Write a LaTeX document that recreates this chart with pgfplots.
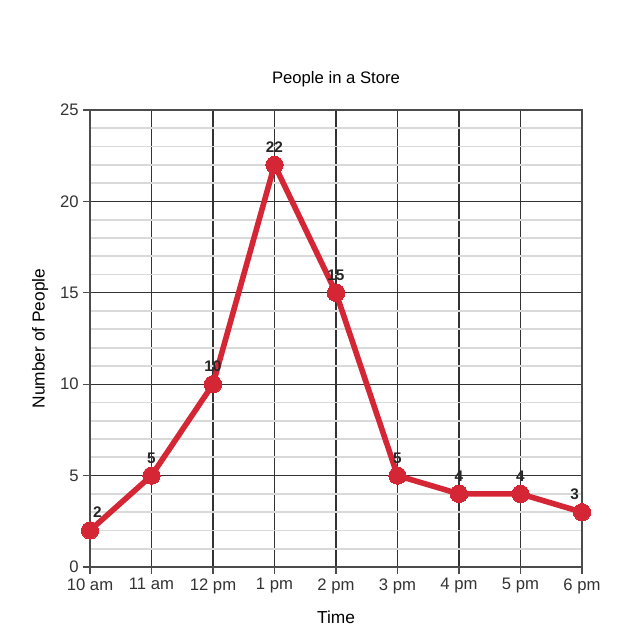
\documentclass[border=0pt]{standalone}
\usepackage{fontspec}
\setmainfont{Liberation Sans}
\usepackage{pgfplots}
\pgfplotsset{compat=1.18}
\definecolor{linered}{RGB}{212,38,52}
\begin{document}
\begin{tikzpicture}
\useasboundingbox (-67.5pt,-50.25pt) rectangle (400.5pt,425.25pt);
\begin{axis}[
  scale only axis,
  width=369pt, height=342.75pt,
  xmin=0, xmax=8, ymin=0, ymax=25,
  xtick={0,...,8},
  xticklabels={10 am,11 am,12 pm,1 pm,2 pm,3 pm,4 pm,5 pm,6 pm},
  ytick={0,5,...,25},
  minor y tick num=4,
  minor tick length=0pt,
  major tick length=5pt,
  tick align=outside,
  xtick pos=bottom, ytick pos=left,
  grid=both,
  major grid style={black!80, line width=0.85pt},
  minor grid style={black!15, line width=1.3pt},
  axis line style={black!70, line width=1pt},
  tick style={black!70, line width=1pt},
  /pgf/number format/assume math mode=true,
  tick label style={font=\fontsize{12.5}{14}\selectfont, text=black!80},
  title={People in a Store},
  title style={font=\fontsize{12.5}{14}\selectfont, yshift=7.5pt},
  xlabel={Time},
  ylabel={Number of People},
  label style={font=\fontsize{13}{15}\selectfont},
  xlabel style={yshift=-6.5pt},
  ylabel style={yshift=2pt},
  nodes near coords={\ifnum\coordindex=0 \hspace*{11pt}\fi\pgfmathprintnumber{\pgfplotspointmeta}\ifnum\coordindex=8 \hspace*{11pt}\fi},
  every node near coord/.style={font=\bfseries\fontsize{11.5}{13}\selectfont, anchor=south, yshift=6pt, text=black!85},
]
\addplot[color=linered, line width=4.2pt, mark=*, mark size=6.5pt, mark options={fill=linered, line width=0pt}] coordinates {
  (0,2)(1,5)(2,10)(3,22)(4,15)(5,5)(6,4)(7,4)(8,3)
};
\end{axis}
\end{tikzpicture}
\end{document}
